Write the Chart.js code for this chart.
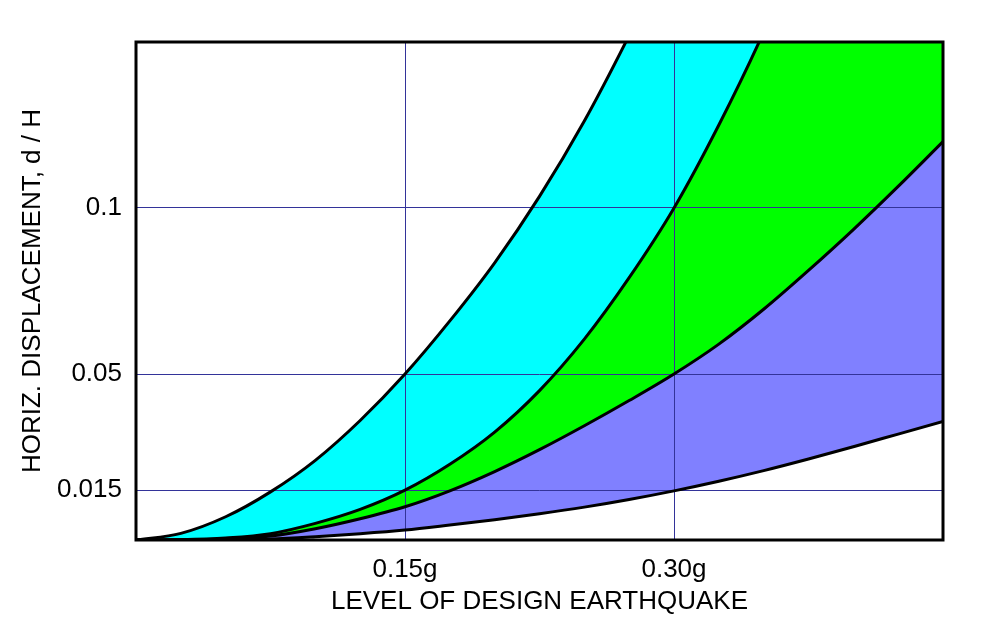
<!DOCTYPE html>
<html>
<head>
<meta charset="utf-8">
<title>Horizontal displacement vs design earthquake</title>
<script src="https://cdn.jsdelivr.net/npm/chart.js@4/dist/chart.umd.min.js"></script>
<style>
    body { margin: 0; background: #ffffff; }
    #wrap { width: 1000px; height: 618px; }
</style>
</head>
<body>
<div id="wrap"><canvas id="chart" width="1000" height="618"></canvas></div>
<script>
// Earthquake level (g), shared by all curves
const accel = [0, 0.025, 0.05, 0.075, 0.1, 0.125, 0.15, 0.175, 0.2, 0.225,
               0.25, 0.275, 0.3, 0.325, 0.35, 0.375, 0.4, 0.425, 0.45];

// d / H for each boundary curve (steepest first); curves stop once they leave the top
const curveA = [0, 0.0020, 0.0070, 0.0145, 0.0240, 0.0360, 0.0500, 0.0660, 0.0835, 0.1035,
                0.1262, 0.1520, 0.1800];
const curveB = [0, 0.0001, 0.0006, 0.0019, 0.0050, 0.0092, 0.0150, 0.0228, 0.0325, 0.0450,
                0.0605, 0.0790, 0.1000, 0.1250, 0.1530, 0.1850];
const curveC = [0, 0.0001, 0.0003, 0.0012, 0.0034, 0.0064, 0.0100, 0.0148, 0.0206, 0.0272,
                0.0344, 0.0420, 0.0500, 0.0590, 0.0695, 0.0812, 0.0935, 0.1065, 0.1200];
const curveD = [0, 0.0000, 0.0001, 0.0003, 0.0010, 0.0019, 0.0030, 0.0045, 0.0061, 0.0079,
                0.0099, 0.0122, 0.0148, 0.0177, 0.0209, 0.0244, 0.0281, 0.0319, 0.0357];

// Tick positions and labels
const xTickValues = [0.15, 0.30];
const xTickLabels = ['0.15g', '0.30g'];
const yTickValues = [0.015, 0.05, 0.1];
const yTickLabels = ['0.015', '0.05', '0.1'];

const FONT = "'Liberation Sans', Arial, Helvetica, sans-serif";
const GRID = '#333399';

function toPoints(values) {
    return values.map((v, i) => ({ x: accel[i], y: v }));
}

// each curve fills the space above it; later curves paint over earlier ones
function curve(values, fillColor) {
    return {
        data: toPoints(values),
        borderColor: '#000000',
        borderWidth: 3,
        pointRadius: 0,
        cubicInterpolationMode: 'monotone',
        fill: 'end',
        backgroundColor: fillColor
    };
}

// Thick black frame round the plot area
const framePlugin = {
    id: 'frame',
    afterDatasetsDraw(chart) {
        const { ctx, chartArea: a } = chart;
        ctx.save();
        ctx.strokeStyle = '#000000';
        ctx.lineWidth = 3;
        ctx.strokeRect(a.left, a.top, a.right - a.left, a.bottom - a.top);
        ctx.restore();
    }
};

function setupChart() {
    const ctx = document.getElementById('chart').getContext('2d');
    new Chart(ctx, {
        type: 'line',
        data: {
            datasets: [
                curve(curveA, '#ffffff'),
                curve(curveB, '#00ffff'),
                curve(curveC, '#00ff00'),
                curve(curveD, '#8080ff')
            ]
        },
        options: {
            responsive: false,
            animation: false,
            layout: { padding: { top: 42, right: 57, left: 0, bottom: 0 } },
            plugins: {
                legend: { display: false },
                tooltip: { enabled: false },
                filler: { drawTime: 'beforeDraw' }
            },
            scales: {
                x: {
                    type: 'linear',
                    min: 0,
                    max: 0.45,
                    afterBuildTicks: s => { s.ticks = xTickValues.map(v => ({ value: v })); },
                    afterFit: s => { s.height = 78; },
                    ticks: {
                        autoSkip: false,
                        maxRotation: 0,
                        padding: 14,
                        color: '#000000',
                        font: { family: FONT, size: 26 },
                        callback: v => xTickLabels[xTickValues.indexOf(v)]
                    },
                    grid: { color: GRID, lineWidth: 1, drawTicks: false },
                    border: { display: false },
                    title: {
                        display: true,
                        text: 'LEVEL OF DESIGN EARTHQUAKE',
                        color: '#000000',
                        font: { family: FONT, size: 26 },
                        padding: { top: 0, bottom: 1 }
                    }
                },
                y: {
                    type: 'linear',
                    min: 0,
                    max: 0.15,
                    afterBuildTicks: s => { s.ticks = yTickValues.map(v => ({ value: v })); },
                    afterFit: s => { s.width = 136; },
                    ticks: {
                        padding: 14,
                        color: '#000000',
                        font: { family: FONT, size: 26 },
                        callback: v => yTickLabels[yTickValues.indexOf(v)]
                    },
                    grid: { color: GRID, lineWidth: 1, drawTicks: false },
                    border: { display: false },
                    title: {
                        display: true,
                        text: 'HORIZ. DISPLACEMENT, d / H',
                        color: '#000000',
                        font: { family: FONT, size: 26 },
                        padding: { top: 17, bottom: 0 }
                    }
                }
            }
        },
        plugins: [framePlugin]
    });
}

setupChart();
</script>
</body>
</html>
